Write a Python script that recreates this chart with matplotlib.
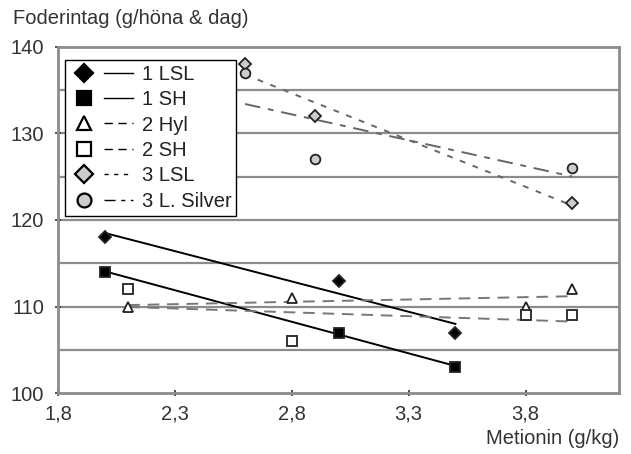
import matplotlib.pyplot as plt
import numpy as np
from matplotlib.lines import Line2D
from matplotlib.legend_handler import HandlerTuple

plt.rcParams['font.family'] = ['Liberation Sans', 'DejaVu Sans']

# data
names = ['1 LSL', '1 SH', '2 Hyl', '2 SH', '3 LSL', '3 L. Silver']
x_1lsl = [2.0, 3.0, 3.5]
y_1lsl = [118, 113, 107]
x_1sh = [2.0, 3.0, 3.5]
y_1sh = [114, 107, 103]
x_2hyl = [2.1, 2.8, 3.8, 4.0]
y_2hyl = [110, 111, 110, 112]
x_2sh = [2.1, 2.8, 3.8, 4.0]
y_2sh = [112, 106, 109, 109]
x_3lsl = [2.6, 2.9, 4.0]
y_3lsl = [138, 132, 122]
x_3ls = [2.6, 2.9, 4.0]
y_3ls = [137, 127, 126]
xticks = [1.8, 2.3, 2.8, 3.3, 3.8]
xticklabels = ['1,8', '2,3', '2,8', '3,3', '3,8']
yticks = [100, 110, 120, 130, 140]

series = [
    (x_1lsl, y_1lsl, 'D', 'black', '-', 'black'),
    (x_1sh, y_1sh, 's', 'black', '-', 'black'),
    (x_2hyl, y_2hyl, '^', 'white', (0, (6, 4)), '#777777'),
    (x_2sh, y_2sh, 's', 'white', (0, (6, 4)), '#777777'),
    (x_3lsl, y_3lsl, 'D', '#cccccc', (0, (3, 4)), '#666666'),
    (x_3ls, y_3ls, 'o', '#cccccc', (0, (8, 4, 3, 4)), '#666666'),
]

fig = plt.figure(figsize=(6.31, 4.54), dpi=100)
ax = fig.add_axes([0.092, 0.134, 0.889, 0.763])

for yv in range(105, 140, 5):
    ax.axhline(yv, color='#8c8c8c', lw=1.6, zorder=0)

handles = []
for (xs, ys, m, fc, ls, lc), name in zip(series, names):
    xs = np.array(xs)
    k, b = np.polyfit(xs, ys, 1)
    xl = np.array([xs.min(), xs.max()])
    ax.plot(xl, k * xl + b, color=lc, ls=ls, lw=1.4, zorder=2)
    ms = 6 if m == 'D' else 7
    ax.plot(xs, ys, ls='none', marker=m, ms=ms, mfc=fc, mec='#222222',
            mew=1.3, zorder=3)
    h_m = Line2D([], [], ls='none', marker=m, ms=ms + 3, mfc=fc,
                 mec='black', mew=1.6)
    h_l = Line2D([], [], color='black', ls=ls, lw=1.0)
    handles.append((h_m, h_l))

leg = ax.legend(handles, names, handler_map={tuple: HandlerTuple(ndivide=None, pad=0.3)},
                loc='upper left', bbox_to_anchor=(0.0125, 0.963), fontsize=14.5,
                frameon=True, fancybox=False, framealpha=1, edgecolor='black',
                handlelength=3.1, handletextpad=0.45, borderpad=0.25,
                labelspacing=0.32, borderaxespad=0.0)
leg.get_frame().set_linewidth(1.0)
for t in leg.get_texts():
    t.set_color('#222222')

ax.set_xlim(1.8, 4.2)
ax.set_ylim(100, 140)
ax.set_xticks(xticks)
ax.set_xticklabels(xticklabels)
ax.set_yticks(yticks)
ax.tick_params(axis='both', labelsize=14.5, colors='#333333', length=4,
               width=1.2, direction='inout')
ax.tick_params(axis='y', pad=8)
ax.tick_params(axis='x', pad=6)
for s in ax.spines.values():
    s.set_color('#8c8c8c')
    s.set_linewidth(2)

fig.text(0.02, 0.96, 'Foderintag (g/höna & dag)', fontsize=14.5, color='#333333',
         va='center')
fig.text(0.981, 0.035, 'Metionin (g/kg)', fontsize=14.5, color='#333333',
         ha='right', va='center')

fig.savefig('out.png', dpi=100)
